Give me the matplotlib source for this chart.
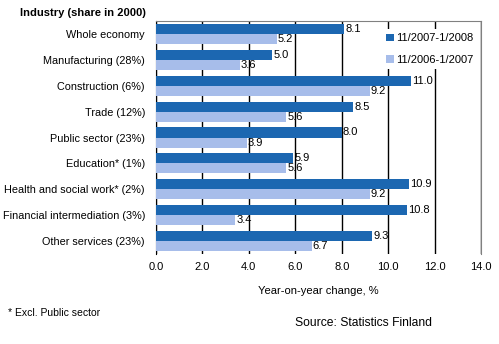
import matplotlib
matplotlib.use("Agg")
import matplotlib.pyplot as plt
import numpy as np

plt.rcParams['font.family'] = ['Liberation Sans', 'DejaVu Sans']

categories = ["Whole economy", "Manufacturing (28%)", "Construction (6%)", "Trade (12%)",
              "Public sector (23%)", "Education* (1%)", "Health and social work* (2%)",
              "Financial intermediation (3%)", "Other services (23%)"]
recent = [8.1, 5.0, 11.0, 8.5, 8.0, 5.9, 10.9, 10.8, 9.3]
previous = [5.2, 3.6, 9.2, 5.6, 3.9, 5.6, 9.2, 3.4, 6.7]
series_names = ["11/2007-1/2008", "11/2006-1/2007"]
xticks = [0, 2, 4, 6, 8, 10, 12, 14]

dark = "#1C67B1"
light = "#A7BDEA"

fig = plt.figure(figsize=(4.99, 3.44), dpi=100)
ax = fig.add_axes([156 / 499, 1 - 254 / 344, 325 / 499, 233 / 344])

y = np.arange(len(categories))
h = 0.39
b1 = ax.barh(y - h / 2, recent, height=h, color=dark, label=series_names[0], zorder=3)
b2 = ax.barh(y + h / 2, previous, height=h, color=light, label=series_names[1], zorder=3)

for rects, vals in ((b1, recent), (b2, previous)):
    for r, v in zip(rects, vals):
        ax.text(v + 0.05, r.get_y() + r.get_height() / 2, f"{v:.1f}", va="center",
                ha="left", fontsize=8, zorder=5)

ax.set_xlim(0, 14)
ax.set_ylim(len(categories) - 0.5, -0.5)
ax.set_xticks(xticks)
ax.set_xticklabels([f"{t:.1f}" for t in xticks], fontsize=8)
ax.set_yticks(y)
ax.set_yticklabels(categories, fontsize=7.8)
ax.tick_params(axis="y", length=0, pad=8)
ax.tick_params(axis="x", length=0, pad=6)
ax.xaxis.grid(True, color="black", linewidth=1, zorder=0)
for s in ("top", "right", "bottom"):
    ax.spines[s].set_color("#808080")
ax.spines["left"].set_color("black")
ax.spines["bottom"].set_visible(False)

ax.set_xlabel("Year-on-year change, %", fontsize=8, labelpad=10)

leg = ax.legend(loc="upper right", bbox_to_anchor=(1.0, 0.98), fontsize=8, frameon=True,
                fancybox=False, edgecolor="none", framealpha=1, handlelength=0.7,
                handleheight=0.7, handletextpad=0.2, labelspacing=1.0, borderaxespad=0.3)
leg.set_zorder(10)

fig.text(20 / 499, 1 - 13 / 344, "Industry (share in 2000)", fontsize=8, fontweight="bold",
         va="center", ha="left")
fig.text(8 / 499, 1 - 313 / 344, "* Excl. Public sector", fontsize=7.5, va="center", ha="left")
fig.text(295 / 499, 1 - 323 / 344, "Source: Statistics Finland", fontsize=8.7, va="center",
         ha="left")

fig.savefig("out.png", dpi=100)
